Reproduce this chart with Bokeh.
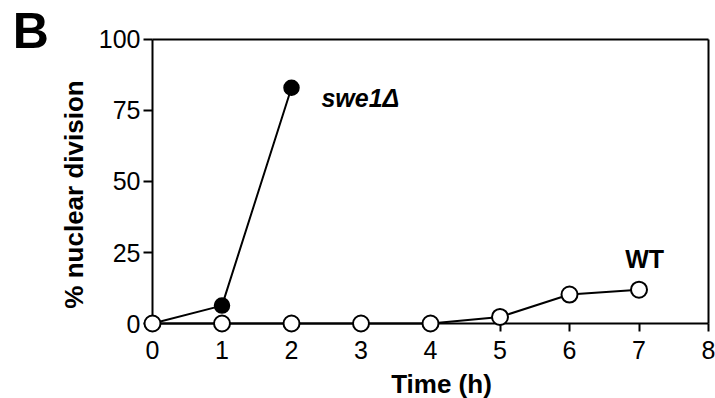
from bokeh.plotting import figure
from bokeh.models import Range1d, LinearAxis, FixedTicker, Label
from bokeh.embed import file_html
from bokeh.resources import INLINE
from bokeh.core.properties import value

# ---- data ----
time_h = [0, 1, 2, 3, 4, 5, 6, 7]
wt_pct = [0, 0, 0, 0, 0, 2.3, 10.2, 11.9]
swe1_time = [0, 1, 2]
swe1_pct = [0, 6.3, 83.0]
x_ticks = [0, 1, 2, 3, 4, 5, 6, 7, 8]
y_ticks = [0, 25, 50, 75, 100]
panel_letter = "B"
swe1_label = "swe1Δ"
wt_label = "WT"
x_title = "Time (h)"
y_title = "% nuclear division"

FONT = "Liberation Sans"

# whole canvas is the frame; axes are placed at data positions
p = figure(width=715, height=398,
           x_range=Range1d(-2.1871, 8.1007), y_range=Range1d(-26.408, 113.732),
           x_axis_type=None, y_axis_type=None,
           output_backend="svg", toolbar_location=None,
           min_border=0, min_border_left=0, min_border_right=0,
           min_border_top=0, min_border_bottom=0)
p.outline_line_color = None
p.background_fill_color = "white"
p.border_fill_color = "white"


def style_axis(ax, show_labels=True):
    ax.level = "underlay"
    ax.axis_line_width = 2
    ax.axis_line_color = "black"
    ax.major_tick_line_width = 2
    ax.major_tick_line_color = "black"
    ax.major_tick_in = 0
    ax.minor_tick_in = 0
    ax.minor_tick_out = 0
    ax.major_label_text_font = FONT
    ax.major_label_text_color = "black"
    ax.axis_label_text_font = FONT
    ax.axis_label_text_font_style = "bold"
    ax.axis_label_text_color = "black"
    ax.axis_label_text_font_size = "26px"
    if not show_labels:
        ax.major_tick_out = 0
        ax.major_label_standoff = 0
        ax.major_label_text_font_size = "0px"


# main axes (line, ticks, tick labels)
xaxis = LinearAxis(ticker=FixedTicker(ticks=x_ticks), fixed_location=0, bounds=(0, 8))
style_axis(xaxis)
xaxis.major_tick_out = 8
xaxis.major_label_standoff = 9
xaxis.major_label_text_font_size = "25px"
p.add_layout(xaxis, "below")

yaxis = LinearAxis(ticker=FixedTicker(ticks=y_ticks), fixed_location=0, bounds=(0, 100))
style_axis(yaxis)
yaxis.major_tick_out = 9
yaxis.major_label_standoff = 3
yaxis.major_label_text_font_size = "25px"
p.add_layout(yaxis, "left")

# axis titles carried by line-less axes, centred where the original sets them
xtitle_axis = LinearAxis(ticker=FixedTicker(ticks=[]), fixed_location=0, bounds=(0.22, 8.22),
                         axis_label=x_title)
style_axis(xtitle_axis, show_labels=False)
xtitle_axis.axis_line_color = None
xtitle_axis.axis_label_standoff = 45
p.add_layout(xtitle_axis, "below")

ytitle_axis = LinearAxis(ticker=FixedTicker(ticks=[]), fixed_location=0, bounds=(-4.6, 95.4),
                         axis_label=y_title)
style_axis(ytitle_axis, show_labels=False)
ytitle_axis.axis_line_color = None
ytitle_axis.axis_label_standoff = 64
p.add_layout(ytitle_axis, "left")

# frame lines on top and right
top_axis = LinearAxis(ticker=FixedTicker(ticks=[]), fixed_location=100, bounds=(0, 8))
style_axis(top_axis, show_labels=False)
p.add_layout(top_axis, "above")

right_axis = LinearAxis(ticker=FixedTicker(ticks=[]), fixed_location=8, bounds=(0, 100))
style_axis(right_axis, show_labels=False)
p.add_layout(right_axis, "right")

# swe1 delta series
p.line(swe1_time, swe1_pct, line_color="black", line_width=2)
p.scatter(swe1_time, swe1_pct, size=15, marker="circle",
          fill_color="black", line_color="black", line_width=1.5)

# WT series
p.line(time_h, wt_pct, line_color="black", line_width=2)
p.scatter(time_h, wt_pct, size=16, marker="circle",
          fill_color="white", line_color="black", line_width=2)

p.text(x=[2.43], y=[79.3], text=[swe1_label], text_font=value(FONT),
       text_font_size="25px", text_font_style="bold italic",
       text_align="left", text_baseline="alphabetic", text_color="black")
p.text(x=[7.08], y=[22.8], text=[wt_label], text_font=value(FONT),
       text_font_size="25px", text_font_style="bold",
       text_align="center", text_baseline="alphabetic", text_color="black")

p.add_layout(Label(x=-2.01, y=103.1, text=panel_letter, text_font=FONT,
                   text_font_size="50px", text_font_style="bold",
                   text_align="left", text_baseline="alphabetic", text_color="black"))

open("out.html", "w").write(file_html(p, INLINE))
